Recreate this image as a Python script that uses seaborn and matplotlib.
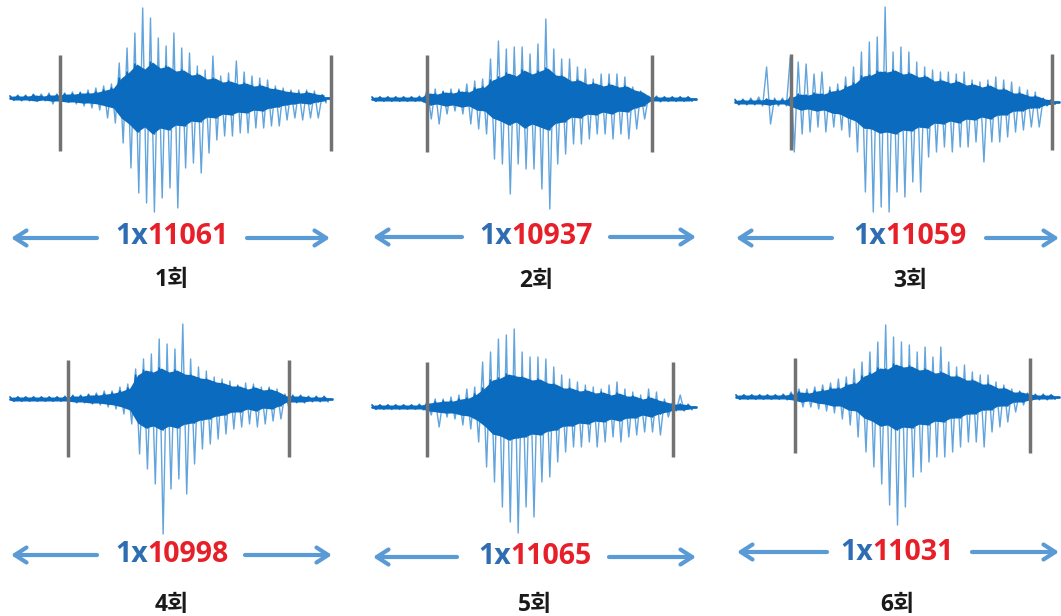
import numpy as np
import matplotlib.pyplot as plt
import seaborn as sns

sns.set_theme(style='white')
plt.rcParams['font.family'] = ['Noto Sans CJK KR', 'DejaVu Sans']

# repetition labels and sample counts
labels = ['1회', '2회', '3회', '4회', '5회', '6회']
counts = [11061, 10937, 11059, 10998, 11065, 11031]

# waveform envelopes (pixels above / below the baseline)
# top = highest spike, bot = deepest spike, core = half height of the dense part
top_1 = [2, 3, 3, 4, 4, 5, 4, 5, 6, 6, 8, 10, 12, 14, 35, 50, 65, 90, 80, 60, 52,
         65, 50, 45, 32, 28, 42, 22, 25, 37, 26, 22, 20, 18, 12, 10, 8, 8, 8, 7, 3]
bot_1 = [2, 3, 3, 3, 3, 6, 4, 4, 6, 8, 10, 12, 20, 25, 45, 70, 95, 105, 114, 100, 90,
         110, 70, 65, 75, 55, 42, 38, 38, 35, 35, 30, 30, 28, 28, 22, 20, 22, 20, 20, 5]
core_1 = [2, 2, 2, 3, 2, 3, 3, 4, 4, 5, 5, 6, 8, 10, 20, 26, 34, 29, 36, 30, 32,
          27, 28, 23, 24, 19, 20, 16, 17, 14, 15, 12, 13, 10, 9, 7, 6, 5, 6, 4, 3]

top_2 = [2, 2, 2, 2, 2, 2, 3, 10, 10, 8, 10, 10, 15, 18, 20, 40, 58, 50, 52, 52, 45,
         55, 80, 50, 40, 40, 32, 30, 20, 25, 25, 25, 22, 12, 8, 3, 3, 2, 2, 2, 2]
bot_2 = [2, 2, 2, 2, 2, 2, 3, 20, 25, 15, 12, 15, 25, 30, 35, 60, 65, 95, 65, 70, 70,
         90, 110, 65, 55, 45, 45, 40, 35, 35, 40, 35, 40, 30, 20, 3, 3, 2, 2, 2, 2]
core_2 = [2, 2, 2, 2, 2, 2, 2, 6, 5, 7, 6, 8, 7, 11, 12, 19, 22, 26, 23, 29, 25,
          28, 31, 24, 23, 18, 19, 15, 16, 13, 15, 12, 13, 9, 7, 2, 2, 2, 2, 2, 2]

top_3 = [3, 3, 4, 5, 35, 4, 4, 45, 40, 38, 28, 30, 15, 18, 25, 35, 50, 60, 65, 95, 50,
         55, 50, 40, 35, 32, 30, 30, 28, 30, 22, 20, 22, 25, 22, 20, 15, 12, 10, 4, 2]
bot_3 = [3, 3, 3, 4, 22, 4, 4, 50, 32, 30, 25, 30, 25, 28, 35, 50, 90, 110, 105, 110, 90,
         95, 80, 90, 55, 50, 45, 50, 45, 45, 40, 60, 40, 40, 35, 30, 28, 25, 25, 4, 2]
core_3 = [2, 2, 2, 2, 3, 2, 2, 5, 8, 7, 9, 8, 11, 12, 16, 19, 26, 27, 31, 30, 32,
          28, 29, 25, 26, 21, 22, 19, 21, 17, 18, 15, 17, 13, 13, 9, 9, 6, 6, 3, 2]

top_4 = [2, 2, 2, 2, 2, 2, 2, 3, 4, 4, 5, 6, 8, 8, 12, 15, 30, 40, 45, 60, 55,
         50, 75, 40, 32, 28, 22, 20, 18, 14, 16, 15, 12, 12, 10, 5, 4, 4, 3, 3, 3]
bot_4 = [2, 2, 2, 2, 2, 2, 2, 3, 4, 4, 5, 6, 8, 10, 15, 25, 55, 70, 85, 135, 90,
         80, 95, 65, 50, 45, 40, 35, 30, 28, 25, 28, 25, 22, 20, 8, 4, 4, 3, 3, 3]
core_4 = [2, 2, 2, 2, 2, 2, 2, 2, 3, 3, 4, 4, 5, 6, 8, 11, 24, 29, 27, 31, 27,
          29, 25, 24, 21, 20, 17, 16, 13, 13, 10, 12, 9, 10, 7, 3, 3, 3, 2, 2, 2]

top_5 = [2, 2, 2, 2, 2, 2, 3, 6, 8, 8, 10, 12, 18, 20, 45, 55, 68, 72, 78, 55, 50,
         50, 48, 40, 32, 28, 25, 22, 20, 18, 22, 25, 18, 15, 12, 18, 15, 8, 4, 12, 3]
bot_5 = [2, 2, 2, 2, 2, 2, 3, 8, 20, 10, 12, 18, 22, 35, 60, 75, 100, 115, 126, 100, 110,
         75, 70, 55, 45, 40, 40, 35, 40, 35, 30, 35, 30, 28, 25, 25, 28, 10, 4, 4, 3]
core_5 = [2, 2, 2, 2, 2, 2, 2, 4, 5, 6, 6, 8, 9, 13, 19, 27, 29, 33, 31, 30, 27,
          28, 24, 23, 19, 19, 16, 17, 14, 15, 12, 14, 11, 11, 8, 10, 7, 5, 3, 3, 2]

top_6 = [2, 2, 2, 2, 2, 2, 3, 5, 8, 8, 10, 12, 14, 18, 20, 28, 35, 45, 55, 72, 60,
         55, 52, 45, 50, 40, 50, 35, 30, 32, 25, 22, 22, 15, 12, 8, 6, 4, 3, 3, 2]
bot_6 = [2, 2, 2, 2, 2, 2, 3, 5, 10, 10, 12, 14, 16, 22, 28, 40, 55, 70, 87, 108, 128,
         110, 80, 75, 65, 60, 60, 55, 50, 45, 45, 50, 35, 30, 25, 15, 8, 4, 3, 3, 2]
core_6 = [2, 2, 2, 2, 2, 2, 2, 3, 5, 4, 6, 7, 9, 9, 13, 14, 21, 24, 29, 28, 33,
          30, 31, 27, 28, 24, 25, 21, 21, 17, 17, 13, 13, 9, 9, 5, 5, 3, 2, 2, 2]

tops = [top_1, top_2, top_3, top_4, top_5, top_6]
bots = [bot_1, bot_2, bot_3, bot_4, bot_5, bot_6]
cores = [core_1, core_2, core_3, core_4, core_5, core_6]

# layout of each panel, in figure pixels
panels = [
    dict(x0=10, x1=330, base=98, marks=(60, 331), mspan=(55, 151), ay=238, gap=(97, 247), tx=172, ty=237, ly=280),
    dict(x0=372, x1=696, base=99, marks=(427, 652), mspan=(55, 152), ay=237, gap=(462, 610), tx=536, ty=236, ly=281),
    dict(x0=735, x1=1059, base=102, marks=(791, 1052), mspan=(54, 150), ay=238, gap=(832, 986), tx=910, ty=237, ly=281),
    dict(x0=10, x1=332, base=399, marks=(68, 289), mspan=(360, 457), ay=555, gap=(97, 245), tx=172, ty=554, ly=605),
    dict(x0=372, x1=696, base=407, marks=(427, 673), mspan=(362, 457), ay=557, gap=(457, 609), tx=535, ty=556, ly=605),
    dict(x0=736, x1=1059, base=397, marks=(795, 1030), mspan=(358, 453), ay=552, gap=(827, 972), tx=897, ty=553, ly=605),
]

core_color = '#0b6cbf'
spike_color = '#62a4dc'
arrow_color = '#5b9bd5'
mark_color = '#727272'
one_x_color = '#2f6db3'
num_color = '#e61f28'
count_fonts = ['Open Sans', 'Noto Sans CJK KR']

fig = plt.figure(figsize=(10.61, 6.16), dpi=100)
ax = fig.add_axes([0, 0, 1, 1])
ax.set_xlim(0, 1061)
ax.set_ylim(616, 0)
ax.axis('off')

pairs = []
for p, top, bot, core, lab, cnt in zip(panels, tops, bots, cores, labels, counts):
    top = np.array(top)
    bot = np.array(bot)
    core = np.array(core)
    n = len(top)
    base = p['base']
    step = (p['x1'] - p['x0']) / n
    xs = p['x0'] + step * np.arange(n)

    # signal drawn as a zigzag: each peak goes up, then down half a step later
    xz = np.empty(2 * n)
    yz = np.empty(2 * n)
    xz[0::2] = xs
    xz[1::2] = xs + step / 2
    yz[0::2] = base - top
    yz[1::2] = base + bot
    sns.lineplot(x=xz, y=yz, sort=False, estimator=None, color=spike_color,
                 lw=1.0, ax=ax, zorder=2)

    # dense core of the signal
    ax.fill_between(xs + step / 4, base - core, base + core, color=core_color, lw=0, zorder=3)
    cz = np.empty(2 * n)
    cz[0::2] = base - core
    cz[1::2] = base + core
    sns.lineplot(x=xz, y=cz, sort=False, estimator=None, color=core_color,
                 lw=1.2, ax=ax, zorder=3)
    ax.plot([p['x0'], p['x1']], [base, base], color=core_color, lw=2, zorder=3)

    # start / end markers
    ax.vlines(p['marks'], p['mspan'][0], p['mspan'][1], color=mark_color, lw=2.5, zorder=4)

    # double arrow with a gap for the count text
    style = '->,head_length=0.7,head_width=0.45'
    ax.annotate('', xy=(p['x0'] + 1, p['ay']), xytext=(p['gap'][0], p['ay']),
                arrowprops=dict(arrowstyle=style, lw=3, color=arrow_color, shrinkA=0, shrinkB=0))
    ax.annotate('', xy=(p['x1'], p['ay']), xytext=(p['gap'][1], p['ay']),
                arrowprops=dict(arrowstyle=style, lw=3, color=arrow_color, shrinkA=0, shrinkB=0))

    t1 = ax.text(p['tx'], p['ty'], '1x', color=one_x_color, fontsize=20.5, family=count_fonts,
                 fontweight='bold', ha='left', va='center')
    t2 = ax.text(p['tx'], p['ty'], str(cnt), color=num_color, fontsize=20.5, family=count_fonts,
                 fontweight='bold', ha='left', va='center')
    pairs.append((t1, t2, p['tx']))

    ax.text(p['tx'], p['ly'], lab, color='#1a1a1a', fontsize=16.5, family=count_fonts,
            fontweight='bold', ha='center', va='center')

# centre the two-colour count labels
renderer = fig.canvas.get_renderer()
for t1, t2, cx in pairs:
    w1 = t1.get_window_extent(renderer).width
    w2 = t2.get_window_extent(renderer).width
    left = cx - (w1 + w2) / 2
    t1.set_x(left)
    t2.set_x(left + w1)

fig.savefig('out.png', dpi=100)
